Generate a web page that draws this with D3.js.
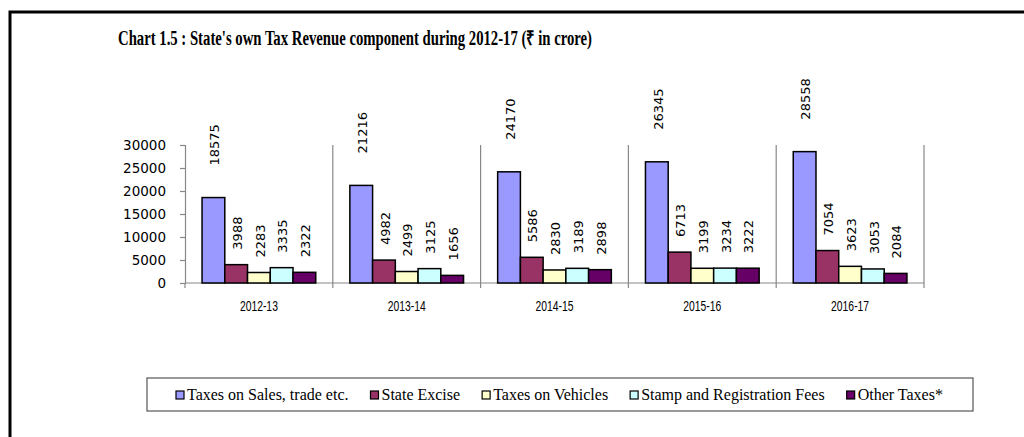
<!DOCTYPE html>
<html lang="en">
<head>
    <meta charset="UTF-8">
    <title>state-own-tax-revenue</title>
    <style>
        body {
            margin: 0;
            background: #fff;
        }
    </style>
    <script src="https://d3js.org/d3.v7.min.js"></script>
</head>
<body>

<script>

    // data (₹ in crore)
    let years = ["2012-13", "2013-14", "2014-15", "2015-16", "2016-17"]
    let seriesNames = ["Taxes on Sales, trade etc.", "State Excise", "Taxes on Vehicles", "Stamp and Registration Fees", "Other Taxes*"]
    let salesTax = [18575, 21216, 24170, 26345, 28558]
    let stateExcise = [3988, 4982, 5586, 6713, 7054]
    let vehicleTax = [2283, 2499, 2830, 3199, 3623]
    let stampFees = [3335, 3125, 3189, 3234, 3053]
    let otherTaxes = [2322, 1656, 2898, 3222, 2084]
    let yTicks = [0, 5000, 10000, 15000, 20000, 25000, 30000]

    let seriesValues = [salesTax, stateExcise, vehicleTax, stampFees, otherTaxes]
    let colors = ["#9999FF", "#993366", "#FFFFCC", "#CCFFFF", "#660066"]

    let width = 1024;
    let height = 437;

    let svg = d3.select("body").append("svg")
        .attr("width", width)
        .attr("height", height)

    // outer frame
    svg.append("rect")
        .attr("x", 10).attr("y", 12)
        .attr("width", width + 20).attr("height", height + 20)
        .attr("fill", "none")
        .attr("stroke", "#000")
        .attr("stroke-width", 3)

    svg.append("text")
        .attr("x", 118).attr("y", 45)
        .attr("textLength", 474)
        .attr("lengthAdjust", "spacingAndGlyphs")
        .style("font-family", "'Liberation Serif', serif")
        .style("font-weight", "bold")
        .style("font-size", "20px")
        .text("Chart 1.5 : State's own Tax Revenue component during 2012-17 (₹ in crore)")

    let x = d3.scaleBand().domain(years).range([185, 924]).padding(0)
    let bw = x.bandwidth()
    let xSub = d3.scaleBand().domain(d3.range(5)).range([bw * 0.75 / 6.5, bw * 5.75 / 6.5])
    let y = d3.scaleLinear().domain([0, 30000]).range([283, 145])

    // vertical separators between categories
    svg.append("g")
        .selectAll("line")
        .data(years)
        .enter()
        .append("line")
        .attr("x1", d => x(d) + bw).attr("x2", d => x(d) + bw)
        .attr("y1", y(30000)).attr("y2", y(0))
        .attr("stroke", "#888")
        .attr("stroke-width", 1.2)

    // y axis
    let yAxis = svg.append("g")
        .attr("transform", "translate(185,0)")
        .call(d3.axisLeft(y).tickValues(yTicks).tickSize(5).tickPadding(14).tickFormat(d3.format("d")))
    yAxis.selectAll("path, line").attr("stroke", "#888").attr("stroke-width", 1.2)
    yAxis.selectAll("text")
        .attr("fill", "#000")
        .style("font-family", "'DejaVu Sans', sans-serif")
        .style("font-size", "13.5px")

    // x axis
    let xAxisG = svg.append("g")
        .attr("transform", "translate(0," + y(0) + ")")
    xAxisG.append("line")
        .attr("x1", 185).attr("x2", 924)
        .attr("stroke", "#888").attr("stroke-width", 1.2)
    xAxisG.selectAll(".tk")
        .data([185].concat(years.map(d => x(d) + bw)))
        .enter()
        .append("line")
        .attr("class", "tk")
        .attr("x1", d => d).attr("x2", d => d)
        .attr("y1", 0).attr("y2", 5)
        .attr("stroke", "#888").attr("stroke-width", 1.2)
    xAxisG.selectAll(".cat")
        .data(years)
        .enter()
        .append("text")
        .attr("class", "cat")
        .attr("x", d => x(d) + bw / 2 - 19)
        .attr("y", 28)
        .attr("textLength", 38)
        .attr("lengthAdjust", "spacingAndGlyphs")
        .style("font-family", "'Liberation Sans', sans-serif")
        .style("font-size", "15.5px")
        .text(d => d)

    // bars
    let groups = svg.append("g")
        .selectAll("g")
        .data(seriesValues)
        .enter()
        .append("g")

    groups.selectAll("rect")
        .data((vals, i) => vals.map((v, j) => ({v: v, s: i, year: years[j]})))
        .enter()
        .append("rect")
        .attr("x", d => x(d.year) + xSub(d.s))
        .attr("y", d => y(d.v))
        .attr("width", xSub.bandwidth())
        .attr("height", d => y(0) - y(d.v))
        .attr("fill", d => colors[d.s])
        .attr("stroke", "#000")
        .attr("stroke-width", 1.5)

    // rotated value labels
    groups.selectAll("text")
        .data((vals, i) => vals.map((v, j) => ({v: v, s: i, year: years[j]})))
        .enter()
        .append("text")
        .attr("transform", d => {
            let cx = x(d.year) + xSub(d.s) + xSub.bandwidth() / 2 + 1
            let gap = d.s === 0 ? 32 : 15
            return "translate(" + cx + "," + (y(d.v) - gap) + ") rotate(-90)"
        })
        .attr("dy", "0.36em")
        .style("font-family", "'DejaVu Sans', sans-serif")
        .style("font-size", "13px")
        .text(d => d.v)

    // legend
    let legend = svg.append("g")
    legend.append("rect")
        .attr("x", 147).attr("y", 378)
        .attr("width", 826).attr("height", 33)
        .attr("fill", "#fff")
        .attr("stroke", "#555")
        .attr("stroke-width", 1.2)

    let lx = 176
    seriesNames.forEach(function (name, i) {
        legend.append("rect")
            .attr("x", lx).attr("y", 391)
            .attr("width", 8).attr("height", 8)
            .attr("fill", colors[i])
            .attr("stroke", "#000")
            .attr("stroke-width", 1.2)
        let t = legend.append("text")
            .attr("x", lx + 11).attr("y", 400)
            .style("font-family", "'Liberation Serif', serif")
            .style("font-size", "16px")
            .text(name)
        lx += 11 + t.node().getComputedTextLength() + 22
    })

</script>

</body>
</html>
